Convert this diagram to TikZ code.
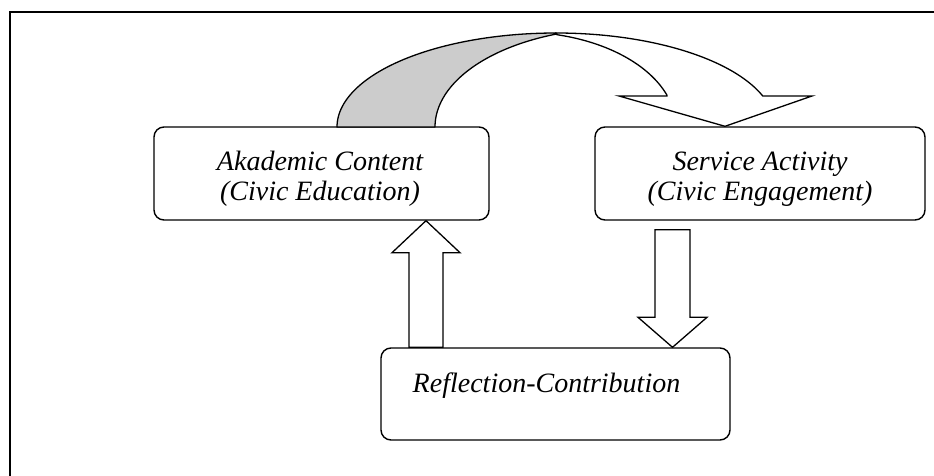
\documentclass[tikz,border=0pt]{standalone}
\usepackage{fontspec}
\setmainfont{Liberation Serif}
\usetikzlibrary{calc}
\tikzset{
  box/.style={draw, line width=1.4pt, rounded corners=10pt, inner sep=0pt},
  lbl/.style={font=\fontsize{28}{29.5}\selectfont\itshape, align=center, inner sep=0pt},
  barrow/.style={draw, line width=1.3pt, fill=white, line join=miter},
  frameline/.style={line width=2pt},
}
\begin{document}
\begin{tikzpicture}[x=1pt,y=-1pt]
\useasboundingbox (0,0) rectangle (934,476);
% partial frame
\coordinate (f1) at (934,12.5);
\coordinate (f2) at (9.5,12.5);
\coordinate (f3) at (9.5,476);
\draw[frameline] (f1) -- (f2) -- (f3);

% boxes
\node[box, minimum width=335pt, minimum height=93pt] (A) at (321.5,173.5) {};
\node[box, minimum width=330pt, minimum height=93pt] (B) at (760,173.5) {};
\node[box, minimum width=349pt, minimum height=92pt] (C) at (555.5,394) {};

% labels
\node[lbl] (At) at (320,179) {Akademic Content\\(Civic Education)};
\node[lbl] (Bt) at (760,179) {Service Activity\\(Civic Engagement)};
\node[lbl, anchor=base] (Ct) at (546.5,392) {Reflection-Contribution};

% curved arrow from A to B: back (gray) part
\filldraw[fill=black!20, line width=1.3pt, line join=round]
  plot[domain=180:90, samples=60] ({556+219*cos(\x)}, {127-94*sin(\x)})
  -- plot[domain=110:180, samples=60] ({620+185*cos(\x)}, {127-99*sin(\x)})
  -- cycle;
% front (white) part with head
\filldraw[fill=white, line width=1.3pt, line join=miter]
  plot[domain=90:19.26, samples=60] ({556+219*cos(\x)}, {127-94*sin(\x)})
  -- (812,96) -- (B.north -| 725,0) -- (619,96) -- (667,96)
  -- plot[domain=19.6:76.3, samples=60] ({520+156*cos(\x)}, {127-95*sin(\x)})
  -- cycle;

% up arrow C -> A
\coordinate (ux) at (426,0);
\coordinate (ut) at (ux |- A.south);
\coordinate (ub) at (ux |- C.north);
\draw[barrow] ($(ub)+(-17,0)$) -- ($(ut)+(-17,32)$) -- ($(ut)+(-34,32)$) -- (ut)
  -- ($(ut)+(34,32)$) -- ($(ut)+(17,32)$) -- ($(ub)+(17,0)$) -- cycle;

% down arrow B -> C
\coordinate (dx) at (672.5,0);
\coordinate (dt) at (dx |- B.south);
\coordinate (db) at (dx |- C.north);
\draw[barrow] ($(dt)+(-17.5,9)$) -- ($(dt)+(17.5,9)$) -- ($(db)+(17.5,-30)$)
  -- ($(db)+(34.5,-30)$) -- (db) -- ($(db)+(-34.5,-30)$) -- ($(db)+(-17.5,-30)$) -- cycle;
\end{tikzpicture}
\end{document}
